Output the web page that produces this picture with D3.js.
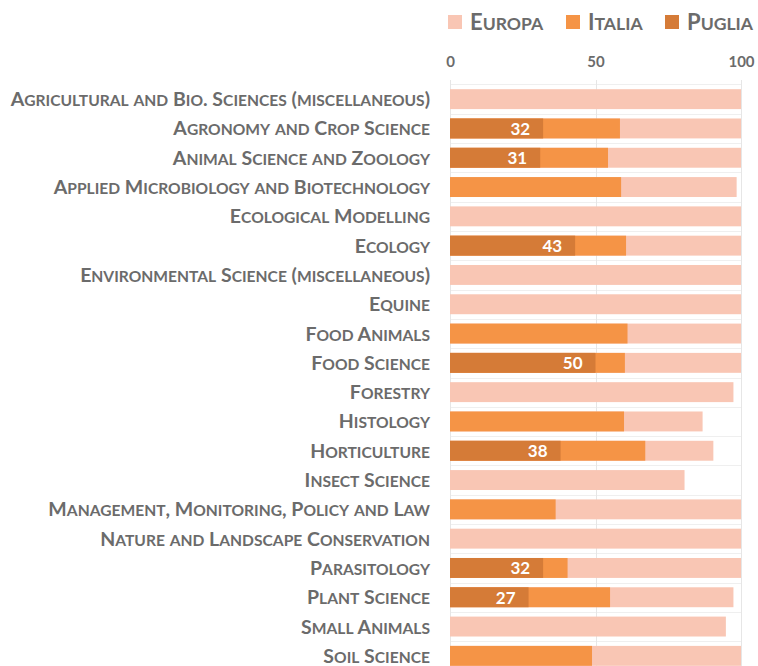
<!DOCTYPE html>
<meta charset="utf-8">
<head>
  <title>Europa / Italia / Puglia</title>
</head>

<style>
body { margin: 0; background: #fff; }
text {
  font-family: Lato, "Open Sans", sans-serif;
  font-weight: bold;
}
.cat { fill: #6b6b6b; font-size: 19.5px; }
.tick text { fill: #6b6b6b; font-size: 15px; }
.legend text { fill: #6b6b6b; font-size: 22px; }
.val { fill: #fff; font-size: 17px; }
</style>

<body>
  <svg width="758" height="666"></svg>

  <script src="https://d3js.org/d3.v7.min.js"></script>
  <script>
var categories = [
  "Agricultural and Bio. Sciences (miscellaneous)",
  "Agronomy and Crop Science",
  "Animal Science and Zoology",
  "Applied Microbiology and Biotechnology",
  "Ecological Modelling",
  "Ecology",
  "Environmental Science (miscellaneous)",
  "Equine",
  "Food Animals",
  "Food Science",
  "Forestry",
  "Histology",
  "Horticulture",
  "Insect Science",
  "Management, Monitoring, Policy and Law",
  "Nature and Landscape Conservation",
  "Parasitology",
  "Plant Science",
  "Small Animals",
  "Soil Science"
];

var europa = [100, 100, 100, 98.5, 100, 100, 100, 100, 100, 100, 97.4, 86.8, 90.5, 80.6, 100, 100, 100, 97.4, 94.8, 100];
var italia = [null, 58.4, 54.3, 58.8, null, 60.5, null, null, 61, 60.1, null, 59.8, 67.1, null, 36.3, null, 40.4, 55, null, 48.8];
var puglia = [null, 32, 31, null, null, 43, null, null, null, 50, null, null, 38, null, null, null, 32, 27, null, null];

var seriesNames = ["Europa", "Italia", "Puglia"];
var seriesColors = ["#f9c6b4", "#f59446", "#d57b37"];
var tickValues = [0, 50, 100];

// small caps by hand: lower case letters become smaller capitals
function smallCaps(sel, ratio) {
  sel.each(function(d) {
    var t = d3.select(this);
    var str = t.attr('data-label');
    var parts = str.match(/[a-z]+|[^a-z]+/g);
    parts.forEach(function(p) {
      var lower = /[a-z]/.test(p);
      t.append('tspan')
        .attr('font-size', lower ? (ratio * 100) + '%' : null)
        .text(p.toUpperCase());
    });
  });
}

var svg = d3.select('svg');

var x = d3.scaleLinear().domain([0, 100]).range([450, 741]);
var y = d3.scaleBand()
  .domain(categories)
  .range([84.5, 84.5 + 29.3 * categories.length])
  .paddingInner(0.32)
  .paddingOuter(0.16);

// horizontal separators
svg.append('g')
  .selectAll('line')
  .data(categories)
  .enter()
  .append('line')
  .attr('x1', x(0))
  .attr('x2', x(100))
  .attr('y1', function(d) { return Math.round(y(d) - y.step() * 0.16) + 0.5; })
  .attr('y2', function(d) { return Math.round(y(d) - y.step() * 0.16) + 0.5; })
  .attr('stroke', '#efefef');

// top axis labels
var axis = svg.append('g')
  .attr('transform', 'translate(0,' + (y.range()[0] + 2) + ')')
  .call(d3.axisTop(x).tickValues(tickValues).tickSize(0).tickPadding(20));
axis.select('.domain').remove();

// vertical gridlines
svg.append('g')
  .selectAll('line')
  .data(tickValues)
  .enter()
  .append('line')
  .attr('x1', function(d) { return Math.round(x(d)) + 0.5; })
  .attr('x2', function(d) { return Math.round(x(d)) + 0.5; })
  .attr('y1', 80)
  .attr('y2', 666)
  .attr('stroke', '#e6e6e6');

var rows = categories.map(function(c, i) {
  return { name: c, values: [europa[i], italia[i], puglia[i]] };
});

var row = svg.append('g')
  .selectAll('g')
  .data(rows)
  .enter()
  .append('g')
  .attr('transform', function(d) { return 'translate(0,' + y(d.name) + ')'; });

seriesNames.forEach(function(s, k) {
  row.filter(function(d) { return d.values[k] != null; })
    .append('rect')
    .attr('x', x(0))
    .attr('width', function(d) { return x(d.values[k]) - x(0); })
    .attr('height', y.bandwidth())
    .attr('fill', seriesColors[k]);
});

row.filter(function(d) { return d.values[2] != null; })
  .append('text')
  .attr('class', 'val')
  .attr('x', function(d) { return x(d.values[2]) - 13; })
  .attr('y', y.bandwidth() / 2)
  .attr('dy', '0.38em')
  .attr('text-anchor', 'end')
  .text(function(d) { return d.values[2]; });

row.append('text')
  .attr('class', 'cat')
  .attr('x', 430)
  .attr('y', y.bandwidth() / 2)
  .attr('dy', '0.36em')
  .attr('text-anchor', 'end')
  .attr('data-label', function(d) { return d.name; })
  .call(smallCaps, 0.8);

// legend
var legendX = [448, 566, 665];
var legend = svg.append('g')
  .attr('class', 'legend')
  .selectAll('g')
  .data(seriesNames)
  .enter()
  .append('g')
  .attr('transform', function(d, i) { return 'translate(' + legendX[i] + ',15)'; });

legend.append('rect')
  .attr('width', 14)
  .attr('height', 14)
  .attr('fill', function(d, i) { return seriesColors[i]; });

legend.append('text')
  .attr('x', 22)
  .attr('y', 7)
  .attr('dy', '0.38em')
  .attr('data-label', function(d) { return d; })
  .call(smallCaps, 0.8);
  </script>
</body>
</html>
